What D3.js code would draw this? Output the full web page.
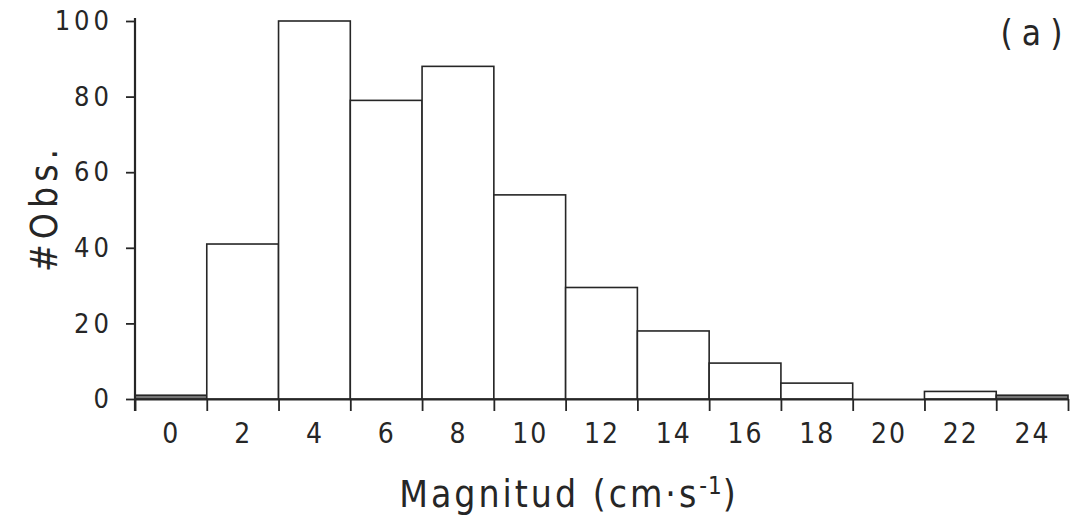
<!DOCTYPE html>
<html>
<head>
<meta charset="utf-8">
<script src="https://cdn.jsdelivr.net/npm/d3@7"></script>
<style>
  html, body { margin: 0; padding: 0; background: #fff; }
  svg { display: block; }
  text { font-family: "DejaVu Sans Condensed", "Liberation Sans Narrow", "DejaVu Sans", sans-serif; fill: #262626; }
</style>
</head>
<body>
<svg id="chart" width="1073" height="519"></svg>
<script>
// Bin centres (cm·s⁻¹) and counts per bin, each bin 2 units wide
const binCenters = [0, 2, 4, 6, 8, 10, 12, 14, 16, 18, 20, 22, 24];
const counts     = [1, 41, 100, 79, 88, 54, 29.5, 18, 9.5, 4.2, 0, 2, 1];
const yTicks     = [0, 20, 40, 60, 80, 100];
const binWidth   = 2;

const svg = d3.select("#chart");
const ink = "#262626";

const x = d3.scaleLinear().domain([-1, 25]).range([135, 1068]);
const y = d3.scaleLinear().domain([0, 100]).range([399, 21]);

// Bars
svg.append("g")
  .selectAll("rect")
  .data(binCenters.map((c, i) => ({ c, v: counts[i] })).filter(d => d.v > 0))
  .join("rect")
  .attr("x", d => x(d.c - binWidth / 2))
  .attr("y", d => y(d.v))
  .attr("width", d => x(d.c + binWidth / 2) - x(d.c - binWidth / 2))
  .attr("height", d => y(0) - y(d.v))
  .attr("fill", d => d.v <= 1 ? "#777" : "#fff")
  .attr("stroke", ink)
  .attr("stroke-width", 1.6);

// X axis: tick marks on the bin edges, labels at the bin centres
const edges = binCenters.map(c => c - binWidth / 2).concat([binCenters[binCenters.length - 1] + binWidth / 2]);
const xEdgeAxis = svg.append("g")
  .attr("transform", `translate(0,${y(0)})`)
  .call(d3.axisBottom(x).tickValues(edges).tickSize(12).tickFormat("").tickSizeOuter(0));
xEdgeAxis.select(".domain").attr("stroke", ink).attr("stroke-width", 2.2);
xEdgeAxis.selectAll(".tick line").attr("stroke", ink).attr("stroke-width", 1.8);

const xLabelAxis = svg.append("g")
  .attr("transform", `translate(0,${y(0)})`)
  .call(d3.axisBottom(x).tickValues(binCenters).tickSize(0).tickPadding(24).tickFormat(d3.format("d")));
xLabelAxis.select(".domain").remove();
xLabelAxis.selectAll(".tick text")
  .attr("font-size", 28)
  .attr("letter-spacing", 2)
  .style("font-family", null);

// Y axis
const yAxis = svg.append("g")
  .attr("transform", `translate(${x(-1)},0)`)
  .call(d3.axisLeft(y).tickValues(yTicks).tickSize(9).tickPadding(13).tickSizeOuter(0));
yAxis.select(".domain").attr("stroke", ink).attr("stroke-width", 2.2)
  .attr("d", `M0,${y(100) - 3}V${y(0) + 12}`);
yAxis.selectAll(".tick line").attr("stroke", ink).attr("stroke-width", 1.8);
yAxis.selectAll(".tick text")
  .attr("font-size", 27)
  .attr("letter-spacing", 4)
  .style("font-family", null);

// Axis titles
const xTitle = svg.append("text")
  .attr("x", 569)
  .attr("y", 507)
  .attr("text-anchor", "middle")
  .attr("font-size", 37)
  .attr("letter-spacing", 3);
xTitle.append("tspan").text("Magnitud (cm·s");
xTitle.append("tspan").attr("dy", -13).attr("font-size", 24).attr("letter-spacing", 1).text("-1");
xTitle.append("tspan").attr("dy", 13).text(")");

svg.append("text")
  .attr("transform", "translate(57,208) rotate(-90)")
  .attr("text-anchor", "middle")
  .attr("font-size", 37)
  .attr("letter-spacing", 5)
  .text("#Obs.");

// Panel label
svg.append("text")
  .attr("x", 1036)
  .attr("y", 45)
  .attr("text-anchor", "middle")
  .attr("font-size", 35)
  .attr("letter-spacing", 9)
  .text("(a)");
</script>
</body>
</html>
